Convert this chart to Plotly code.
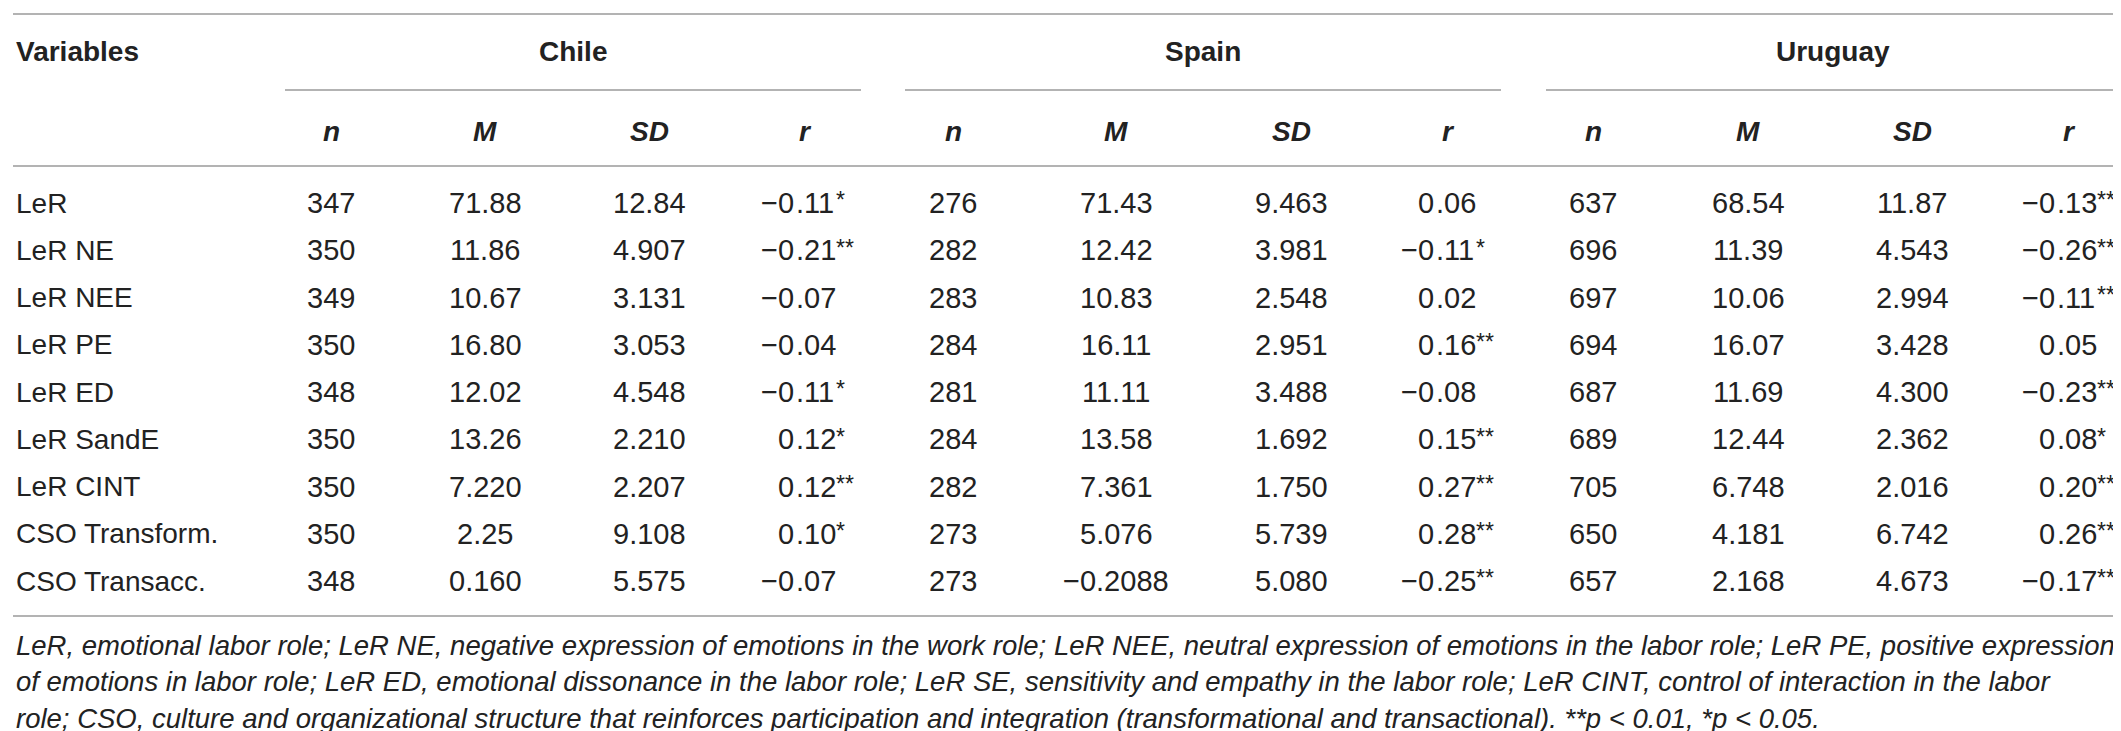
import plotly.graph_objects as go

# ---------------- data ----------------
variables = ["LeR", "LeR NE", "LeR NEE", "LeR PE", "LeR ED", "LeR SandE",
             "LeR CINT", "CSO Transform.", "CSO Transacc."]
countries = ["Chile", "Spain", "Uruguay"]
stat_labels = ["n", "M", "SD", "r"]

chile_n = ["347", "350", "349", "350", "348", "350", "350", "350", "348"]
chile_M = ["71.88", "11.86", "10.67", "16.80", "12.02", "13.26", "7.220", "2.25", "0.160"]
chile_SD = ["12.84", "4.907", "3.131", "3.053", "4.548", "2.210", "2.207", "9.108", "5.575"]
chile_r = ["−0.11*", "−0.21**", "−0.07", "−0.04", "−0.11*", "0.12*", "0.12**", "0.10*", "−0.07"]

spain_n = ["276", "282", "283", "284", "281", "284", "282", "273", "273"]
spain_M = ["71.43", "12.42", "10.83", "16.11", "11.11", "13.58", "7.361", "5.076", "−0.2088"]
spain_SD = ["9.463", "3.981", "2.548", "2.951", "3.488", "1.692", "1.750", "5.739", "5.080"]
spain_r = ["0.06", "−0.11*", "0.02", "0.16**", "−0.08", "0.15**", "0.27**", "0.28**", "−0.25**"]

uruguay_n = ["637", "696", "697", "694", "687", "689", "705", "650", "657"]
uruguay_M = ["68.54", "11.39", "10.06", "16.07", "11.69", "12.44", "6.748", "4.181", "2.168"]
uruguay_SD = ["11.87", "4.543", "2.994", "3.428", "4.300", "2.362", "2.016", "6.742", "4.673"]
uruguay_r = ["−0.13**", "−0.26**", "−0.11**", "0.05", "−0.23**", "0.08*", "0.20**", "0.26**", "−0.17**"]

footnote_lines = [
    "LeR, emotional labor role; LeR NE, negative expression of emotions in the work role; LeR NEE, neutral expression of emotions in the labor role; LeR PE, positive expression",
    "of emotions in labor role; LeR ED, emotional dissonance in the labor role; LeR SE, sensitivity and empathy in the labor role; LeR CINT, control of interaction in the labor",
    "role; CSO, culture and organizational structure that reinforces participation and integration (transformational and transactional). **p < 0.01, *p < 0.05.",
]

table = {
    "Chile": [chile_n, chile_M, chile_SD, chile_r],
    "Spain": [spain_n, spain_M, spain_SD, spain_r],
    "Uruguay": [uruguay_n, uruguay_M, uruguay_SD, uruguay_r],
}

# ---------------- layout constants ----------------
W, H = 2121, 731
FONT = "Liberation Sans, Arial, sans-serif"
FS = 28          # labels / headers
FS_VAL = 29      # numbers
FS_STAR = 23
FS_NOTE = 27.5
TXT = "#222222"
LINE = "#9a9a9a"

LEFT_X = 7
ROW0, ROWH = 195, 47.25
Y_COUNTRY, Y_SUB = 43, 123
Y_TOP, Y_UNDER, Y_HEAD, Y_BOTTOM = 6, 82, 158, 608
NOTE_Y0, NOTE_DY = 637, 36.5
LINE_X0, LINE_X1 = 5, 2113

col_x = {"Chile": [323, 477, 641, 797], "Spain": [945, 1108, 1283, 1440],
         "Uruguay": [1585, 1740, 1904, 2061]}
r_dec = {"Chile": 787, "Spain": 1427, "Uruguay": 2048}
country_x = {"Chile": 565, "Spain": 1195, "Uruguay": 1825}
underline = {"Chile": (277, 853), "Spain": (897, 1493), "Uruguay": (1538, 2113)}

# Arial / Liberation Sans advance widths (em) for the fraction part
ADV = {".": 0.278, **{d: 0.556 for d in "0123456789"}}

ann = []
shapes = []


def txt(x, y, s, xanchor="center", yanchor="middle", size=FS, yshift=0):
    ann.append(dict(x=x, y=y, xref="x", yref="y", text=s, showarrow=False,
                    xanchor=xanchor, yanchor=yanchor, borderpad=0, yshift=yshift,
                    font=dict(family=FONT, size=size, color=TXT)))


def row_y(i):
    return ROW0 + i * ROWH


# headers
txt(LEFT_X, Y_COUNTRY, "<b>Variables</b>", xanchor="left")
for c in countries:
    txt(country_x[c], Y_COUNTRY, f"<b>{c}</b>")
    for j, s in enumerate(stat_labels):
        txt(col_x[c][j], Y_SUB, f"<b><i>{s}</i></b>")
    x0, x1 = underline[c]
    shapes.append(dict(type="line", xref="x", yref="y", x0=x0, x1=x1, y0=Y_UNDER, y1=Y_UNDER,
                       line=dict(color=LINE, width=1.6)))

# rows
for i, v in enumerate(variables):
    y = row_y(i)
    txt(LEFT_X, y, v, xanchor="left")
    for c in countries:
        cols = table[c]
        for j in range(3):
            txt(col_x[c][j], y, cols[j][i], size=FS_VAL)
        rv = cols[3][i]
        main = rv.rstrip("*")
        stars = rv[len(main):]
        ip, fp = main.split(".")
        frac = "." + fp
        txt(r_dec[c], y, ip, xanchor="right", size=FS_VAL)
        txt(r_dec[c], y, frac, xanchor="left", size=FS_VAL)
        if stars:
            fw = sum(ADV[ch] for ch in frac) * FS_VAL
            baseline = y + 0.358 * FS_VAL
            txt(r_dec[c] + fw, baseline + 0.212 * FS_STAR, stars,
                xanchor="left", yanchor="bottom", size=FS_STAR, yshift=4)

# rules
for yy in (Y_TOP, Y_HEAD, Y_BOTTOM):
    shapes.append(dict(type="line", xref="x", yref="y", x0=LINE_X0, x1=LINE_X1, y0=yy, y1=yy,
                       line=dict(color=LINE, width=1.6)))

# footnote
for k, line in enumerate(footnote_lines):
    txt(LEFT_X, NOTE_Y0 + k * NOTE_DY, f"<i>{line}</i>", xanchor="left", size=FS_NOTE)

fig = go.Figure()
fig.update_layout(
    width=W, height=H, margin=dict(l=0, r=0, t=0, b=0),
    paper_bgcolor="white", plot_bgcolor="white",
    xaxis=dict(range=[0, W], visible=False, fixedrange=True),
    yaxis=dict(range=[H, 0], visible=False, fixedrange=True),
    annotations=ann, shapes=shapes, showlegend=False,
)
fig.write_html("out.html", config={"displayModeBar": False})
